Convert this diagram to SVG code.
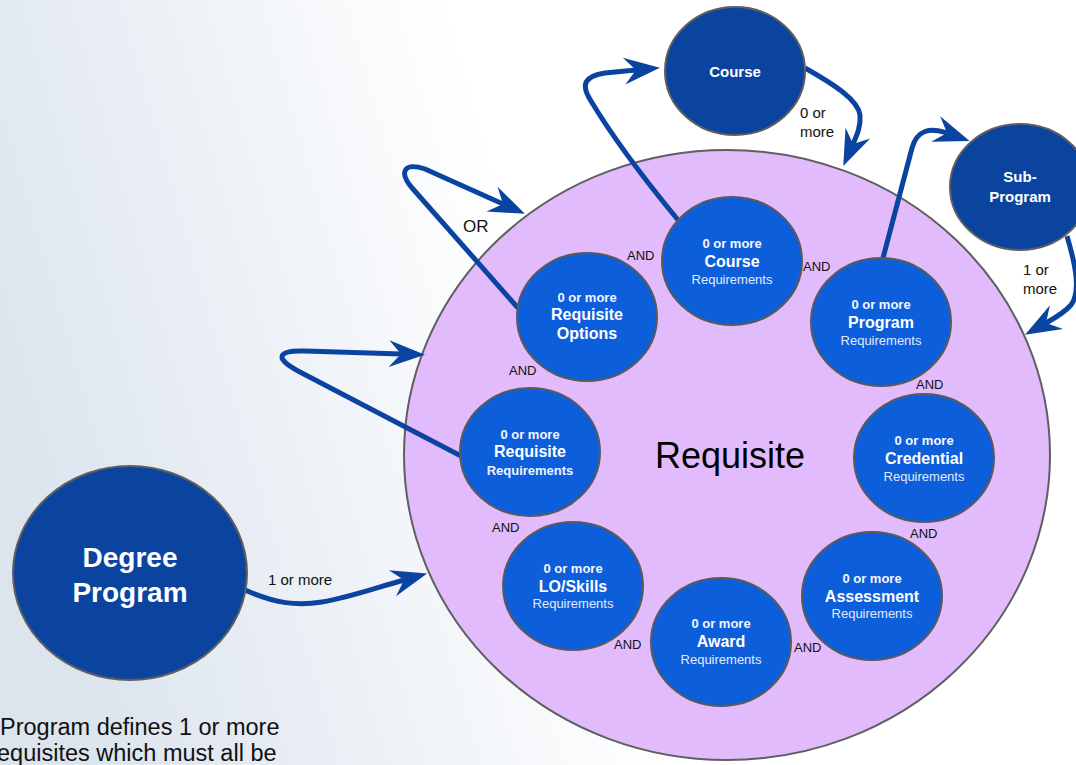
<svg xmlns="http://www.w3.org/2000/svg" width="1076" height="765" viewBox="0 0 1076 765">
  <defs>
    <linearGradient id="bg" gradientUnits="userSpaceOnUse" x1="0" y1="400" x2="520" y2="250">
      <stop offset="0" stop-color="#dce4ee"/>
      <stop offset="1" stop-color="#ffffff"/>
    </linearGradient>
    <marker id="arrow" markerUnits="userSpaceOnUse" viewBox="-14 -15 40 30" markerWidth="40" markerHeight="30" refX="0" refY="0" orient="auto" overflow="visible">
      <path d="M24,0 L-12,-13.5 L0,0 L-12,13.5 Z" fill="#0b44a0"/>
    </marker>
    <style>
      .big { fill: #e2bbfc; stroke: #5f5f5f; stroke-width: 2; }
      .dark { fill: #0b449f; stroke: #5f5f5f; stroke-width: 2; }
      .req { fill: #0d5edb; stroke: #5a5a5a; stroke-width: 2; }
      .conn { fill: none; stroke: #0b44a0; stroke-width: 5; stroke-linejoin: round; marker-end: url(#arrow); }
      text { font-family: "Liberation Sans", Arial, sans-serif; }
      .t1 { font-size: 13px; font-weight: bold; fill: #f4f7ff; text-anchor: middle; }
      .t2 { font-size: 16px; font-weight: bold; fill: #ffffff; text-anchor: middle; }
      .t3 { font-size: 13px; fill: #e3ebfb; text-anchor: middle; }
      .t3b { font-size: 13px; font-weight: bold; fill: #eef3ff; text-anchor: middle; }
      .dt { font-size: 15px; font-weight: bold; fill: #ffffff; text-anchor: middle; }
      .lbl { font-size: 15px; fill: #111111; }
      .and { font-size: 13px; fill: #111111; }
    </style>
  </defs>

  <!-- backdrop -->
  <rect x="0" y="0" width="1076" height="765" fill="url(#bg)"/>

  <!-- container -->
  <g id="requisite">
    <ellipse class="big" cx="727" cy="455" rx="323" ry="305"/>
    <text x="730" y="468" text-anchor="middle" font-size="36" fill="#000000">Requisite</text>
  </g>

  <!-- connectors -->
  <g id="connectors">
    <path class="conn" d="M243,589 C275,604 298,606 322,602 C350,597 375,588 404,580"/>
    <path class="conn" d="M461,456 L298,371 C272,357 280,350 305,351 L401,354"/>
    <path class="conn" d="M518,308 L413,189 C398,172 404,162 425,169 L503,204"/>
    <path class="conn" d="M678,220 C664,203 618,146 591,101 C580,84 585,76 605,73 L636,70"/>
    <path class="conn" d="M805,68 C835,85 858,100 860,115 C861,126 857,135 853,144"/>
    <path class="conn" d="M883,258 L912,148 C917,130 930,127 947,133"/>
    <path class="conn" d="M1067,236 C1074,260 1082,290 1071,305 C1064,313 1055,318 1046,323"/>
    <text class="lbl" x="268" y="585">1 or more</text>
    <text x="463" y="232" font-size="17" fill="#111111">OR</text>
    <text class="lbl" x="800" y="118">0 or</text>
    <text class="lbl" x="800" y="137">more</text>
    <text class="lbl" x="1023" y="275">1 or</text>
    <text class="lbl" x="1023" y="294">more</text>
    <text class="and" x="627" y="260">AND</text>
    <text class="and" x="803" y="271">AND</text>
    <text class="and" x="916" y="389">AND</text>
    <text class="and" x="910" y="538">AND</text>
    <text class="and" x="794" y="652">AND</text>
    <text class="and" x="614" y="649">AND</text>
    <text class="and" x="492" y="532">AND</text>
    <text class="and" x="509" y="375">AND</text>
  </g>

  <g id="degree-program">
    <ellipse class="dark" cx="130" cy="573" rx="117" ry="107"/>
    <text x="130" y="567" text-anchor="middle" font-size="28" font-weight="bold" fill="#ffffff">Degree</text>
    <text x="130" y="602" text-anchor="middle" font-size="28" font-weight="bold" fill="#ffffff">Program</text>
  </g>

  <g id="course">
    <ellipse class="dark" cx="735" cy="71" rx="70" ry="64"/>
    <text class="dt" x="735" y="77">Course</text>
  </g>

  <g id="sub-program">
    <ellipse class="dark" cx="1020" cy="187" rx="70" ry="63"/>
    <text class="dt" x="1020" y="182">Sub-</text>
    <text class="dt" x="1020" y="202">Program</text>
  </g>

  <g id="course-requirements">
    <ellipse class="req" cx="732" cy="261" rx="70" ry="64"/>
    <text class="t1" x="732" y="248">0 or more</text>
    <text class="t2" x="732" y="267">Course</text>
    <text class="t3" x="732" y="284">Requirements</text>
  </g>

  <g id="program-requirements">
    <ellipse class="req" cx="881" cy="322" rx="70" ry="64"/>
    <text class="t1" x="881" y="309">0 or more</text>
    <text class="t2" x="881" y="328">Program</text>
    <text class="t3" x="881" y="345">Requirements</text>
  </g>

  <g id="requisite-options">
    <ellipse class="req" cx="587" cy="317" rx="70" ry="64"/>
    <text class="t1" x="587" y="302">0 or more</text>
    <text class="t2" x="587" y="320">Requisite</text>
    <text class="t2" x="587" y="339">Options</text>
  </g>

  <g id="requisite-requirements">
    <ellipse class="req" cx="530" cy="452" rx="70" ry="64"/>
    <text class="t1" x="530" y="439">0 or more</text>
    <text class="t2" x="530" y="457">Requisite</text>
    <text class="t3b" x="530" y="475">Requirements</text>
  </g>

  <g id="credential-requirements">
    <ellipse class="req" cx="924" cy="458" rx="70" ry="64"/>
    <text class="t1" x="924" y="445">0 or more</text>
    <text class="t2" x="924" y="464">Credential</text>
    <text class="t3" x="924" y="481">Requirements</text>
  </g>

  <g id="assessment-requirements">
    <ellipse class="req" cx="872" cy="596" rx="70" ry="64"/>
    <text class="t1" x="872" y="583">0 or more</text>
    <text class="t2" x="872" y="602">Assessment</text>
    <text class="t3" x="872" y="618">Requirements</text>
  </g>

  <g id="award-requirements">
    <ellipse class="req" cx="721" cy="642" rx="70" ry="64"/>
    <text class="t1" x="721" y="628">0 or more</text>
    <text class="t2" x="721" y="647">Award</text>
    <text class="t3" x="721" y="664">Requirements</text>
  </g>

  <g id="lo-skills-requirements">
    <ellipse class="req" cx="573" cy="586" rx="70" ry="64"/>
    <text class="t1" x="573" y="573">0 or more</text>
    <text class="t2" x="573" y="592">LO/Skills</text>
    <text class="t3" x="573" y="608">Requirements</text>
  </g>

  <!-- caption -->
  <g id="caption" font-size="23.5" fill="#111111">
    <text x="0" y="735">Program defines 1 or more</text>
    <text x="-3" y="761">equisites which must all be</text>
  </g>
</svg>
